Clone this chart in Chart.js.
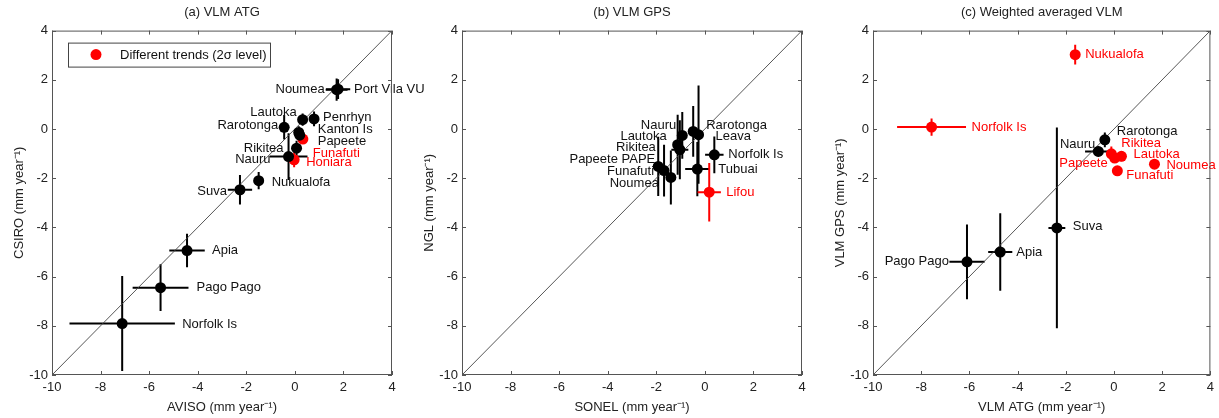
<!DOCTYPE html>
<html>
<head>
<meta charset="utf-8">
<script src="https://cdn.jsdelivr.net/npm/chart.js@4.4.1/dist/chart.umd.min.js"></script>
<style>
  body { margin: 0; background: #fff; width: 1219px; height: 418px; overflow: hidden; position: relative; }
  canvas { position: absolute; top: 0; }
</style>
</head>
<body>
<canvas id="c1" width="420" height="418" style="left:8px"></canvas>
<canvas id="c2" width="420" height="418" style="left:418px"></canvas>
<canvas id="c3" width="390" height="418" style="left:829px"></canvas>
<script>
// (a) VLM ATG : AVISO vs CSIRO
const atgNames = ['Noumea', 'Port Vila VU', 'Lautoka', 'Penrhyn', 'Rarotonga', 'Kanton Is', 'Papeete',
  'Funafuti', 'Honiara', 'Rikitea', 'Nauru', 'Nukualofa', 'Suva', 'Apia', 'Pago Pago', 'Norfolk Is'];
const atgAviso = [1.72, 1.78, 0.32, 0.79, -0.44, 0.16, 0.20, 0.33, -0.03, 0.07, -0.26, -1.49, -2.26, -4.44, -5.53, -7.11];
const atgCsiro = [1.60, 1.62, 0.38, 0.41, 0.07, -0.14, -0.25, -0.41, -1.25, -0.78, -1.12, -2.10, -2.47, -4.94, -6.45, -7.91];
const atgAvisoErr = [0.45, 0.50, 0.15, 0.15, 0.20, 0.15, 0.15, 0.15, 0.15, 0.20, 0.78, 0.20, 0.50, 0.73, 1.15, 2.17];
const atgCsiroErr = [0.45, 0.40, 0.25, 0.30, 0.50, 0.25, 0.30, 0.20, 0.30, 0.30, 0.95, 0.35, 0.60, 0.68, 0.95, 1.93];
const atgDiff = [0, 0, 0, 0, 0, 0, 0, 1, 1, 0, 0, 0, 0, 0, 0, 0];

// (b) VLM GPS : SONEL vs NGL
const gpsNames = ['Nauru', 'Rarotonga', 'Leava', 'Lautoka', 'Rikitea', 'Papeete PAPE', 'Funafuti', 'Noumea',
  'Norfolk Is', 'Tubuai', 'Lifou'];
const gpsSonel = [-0.93, -0.48, -0.26, -1.12, -1.03, -1.92, -1.68, -1.40, 0.39, -0.31, 0.18];
const gpsNgl = [-0.26, -0.10, -0.23, -0.64, -0.84, -1.52, -1.69, -1.97, -1.05, -1.63, -2.57];
const gpsSonelErr = [0.15, 0.15, 0.20, 0.15, 0.35, 0.15, 0.15, 0.15, 0.38, 0.50, 0.48];
const gpsNglErr = [0.95, 1.03, 2.00, 1.22, 1.20, 1.20, 1.05, 1.10, 0.75, 1.10, 1.19];
const gpsDiff = [0, 0, 0, 0, 0, 0, 0, 0, 0, 0, 1];

// (c) Weighted averaged VLM : VLM ATG vs VLM GPS
const wNames = ['Nukualofa', 'Norfolk Is', 'Rarotonga', 'Nauru', 'Rikitea', 'Papeete', 'Lautoka', 'Noumea',
  'Funafuti', 'Suva', 'Apia', 'Pago Pago'];
const wAtg = [-1.61, -7.57, -0.38, -0.65, -0.11, 0.03, 0.31, 1.68, 0.14, -2.37, -4.72, -6.10];
const wGps = [3.02, 0.08, -0.44, -0.91, -1.01, -1.18, -1.11, -1.43, -1.70, -4.02, -5.00, -5.40];
const wAtgErr = [0.15, 1.43, 0.15, 0.55, 0.10, 0.10, 0.15, 0.15, 0.10, 0.35, 0.50, 0.73];
const wGpsErr = [0.40, 0.35, 0.30, 0.20, 0.30, 0.15, 0.20, 0.15, 0.10, 4.08, 1.58, 1.52];
const wDiff = [1, 1, 0, 0, 1, 1, 1, 1, 1, 0, 0, 0];

const axisTicks = [-10, -8, -6, -4, -2, 0, 2, 4];

// label placement (pixel offsets from the marker; negative dx = text ends left of the marker)
const atgLabelPos = [[-12, 0], [16, 0], [-6, -7], [9, -1], [-6, -2], [19, -3], [18, 6], [10, 14], [12, 3],
  [-13, 0], [-18, 3], [13, 2], [-13, 2], [25, 0], [36, 0], [60, 1]];
const gpsLabelPos = [[-6, -10], [13, -6], [17, 2], [-11, -8], [-24, -2], [-3, -7], [-10, 1], [-12, 6],
  [14, 0], [21, 0], [17, 0]];
const wLabelPos = [[10, 0], [40, 0], [12, -8], [-3, -7], [10, -10], [-7, 5], [12, -2], [12, 1], [9, 5],
  [16, -1], [16, 0], [-18, 0]];

const RED = '#ff0000';
const FONT = '"Liberation Sans", Arial, Helvetica, sans-serif';
Chart.defaults.font.family = FONT;
Chart.defaults.font.size = 13;
Chart.defaults.color = '#222';

function makePanel(id, title, xTitle, yTitle, names, xs, ys, xErr, yErr, diff, labelPos, legend, padRight) {
  const pts = names.map((n, i) => ({x: xs[i], y: ys[i], i: i}));

  const stations = {
    id: 'stations',
    beforeDatasetsDraw(chart) {
      const {ctx, scales: {x, y}} = chart;
      ctx.save();
      ctx.lineWidth = 2;
      pts.forEach(p => {
        const px = x.getPixelForValue(p.x), py = y.getPixelForValue(p.y);
        ctx.strokeStyle = diff[p.i] ? RED : '#000';
        ctx.beginPath();
        ctx.moveTo(x.getPixelForValue(p.x - xErr[p.i]), py);
        ctx.lineTo(x.getPixelForValue(p.x + xErr[p.i]), py);
        ctx.moveTo(px, y.getPixelForValue(p.y - yErr[p.i]));
        ctx.lineTo(px, y.getPixelForValue(p.y + yErr[p.i]));
        ctx.stroke();
      });
      ctx.restore();
    },
    afterDatasetsDraw(chart) {
      const {ctx, scales: {x, y}} = chart;
      ctx.save();
      ctx.font = '13px ' + FONT;
      ctx.textBaseline = 'middle';
      pts.forEach(p => {
        const [dx, dy] = labelPos[p.i];
        ctx.fillStyle = diff[p.i] ? RED : '#111';
        ctx.textAlign = dx < 0 ? 'right' : 'left';
        ctx.fillText(names[p.i], x.getPixelForValue(p.x) + dx, y.getPixelForValue(p.y) + dy);
      });
      ctx.restore();
    },
    afterDraw(chart) {
      const {ctx, chartArea: a, scales: {x, y}} = chart;
      ctx.save();
      ctx.strokeStyle = '#555';
      ctx.lineWidth = 1;
      ctx.strokeRect(a.left + 0.5, a.top + 0.5, a.right - a.left - 1, a.bottom - a.top - 1);
      ctx.beginPath();
      x.ticks.forEach(t => {
        const px = Math.round(x.getPixelForValue(t.value)) + 0.5;
        ctx.moveTo(px, a.bottom); ctx.lineTo(px, a.bottom - 4);
        ctx.moveTo(px, a.top); ctx.lineTo(px, a.top + 4);
      });
      y.ticks.forEach(t => {
        const py = Math.round(y.getPixelForValue(t.value)) + 0.5;
        ctx.moveTo(a.left, py); ctx.lineTo(a.left + 4, py);
        ctx.moveTo(a.right, py); ctx.lineTo(a.right - 4, py);
      });
      ctx.stroke();
      if (legend) {
        const lx = a.left + 16, ly = a.top + 12;
        ctx.fillStyle = '#fff';
        ctx.fillRect(lx, ly, 202, 24);
        ctx.strokeStyle = '#444';
        ctx.strokeRect(lx + 0.5, ly + 0.5, 202, 24);
        ctx.fillStyle = RED;
        ctx.beginPath();
        ctx.arc(lx + 28, ly + 12, 5.5, 0, Math.PI * 2);
        ctx.fill();
        ctx.fillStyle = '#111';
        ctx.font = '13px ' + FONT;
        ctx.textBaseline = 'middle';
        ctx.fillText('Different trends (2σ level)', lx + 52, ly + 13);
      }
      ctx.restore();
    }
  };

  const scaleOpts = (text, horizontal) => ({
    type: 'linear',
    min: -10,
    max: 4,
    afterBuildTicks: s => { s.ticks = axisTicks.map(v => ({value: v})); },
    grid: {display: false, drawTicks: false},
    border: {display: false},
    ticks: {padding: horizontal ? 5 : 4, font: {size: 13}, color: '#222'},
    title: {display: true, text: text, font: {size: 13}, color: '#222', padding: horizontal ? {top: 0, bottom: 3} : {top: 4, bottom: 0}},
    afterFit: s => { if (horizontal) s.height = 43; else s.width = 44; }
  });

  new Chart(document.getElementById(id), {
    type: 'scatter',
    data: {
      datasets: [
        {data: pts.filter(p => !diff[p.i]), backgroundColor: '#000', borderWidth: 0, pointRadius: 5.5},
        {data: pts.filter(p => diff[p.i]), backgroundColor: RED, borderWidth: 0, pointRadius: 5.5},
        {data: [{x: -10, y: -10}, {x: 4, y: 4}], showLine: true, borderColor: '#444', borderWidth: 0.9,
          pointRadius: 0}
      ]
    },
    options: {
      responsive: false,
      animation: false,
      events: [],
      layout: {padding: {left: 0, right: padRight, top: 0, bottom: 0}},
      plugins: {
        legend: {display: false},
        tooltip: {enabled: false},
        title: {display: true, text: title, fullSize: false, font: {size: 13, weight: 'normal'}, color: '#222',
          padding: {top: 5, bottom: 10}}
      },
      scales: {x: scaleOpts(xTitle, true), y: scaleOpts(yTitle, false)}
    },
    plugins: [stations]
  });
}

makePanel('c1', '(a) VLM ATG', 'AVISO (mm year⁻¹)', 'CSIRO (mm year⁻¹)',
  atgNames, atgAviso, atgCsiro, atgAvisoErr, atgCsiroErr, atgDiff, atgLabelPos, true, 36);
makePanel('c2', '(b) VLM GPS', 'SONEL (mm year⁻¹)', 'NGL (mm year⁻¹)',
  gpsNames, gpsSonel, gpsNgl, gpsSonelErr, gpsNglErr, gpsDiff, gpsLabelPos, false, 36);
makePanel('c3', '(c) Weighted averaged VLM', 'VLM ATG (mm year⁻¹)', 'VLM GPS (mm year⁻¹)',
  wNames, wAtg, wGps, wAtgErr, wGpsErr, wDiff, wLabelPos, false, 6);
</script>
</body>
</html>
